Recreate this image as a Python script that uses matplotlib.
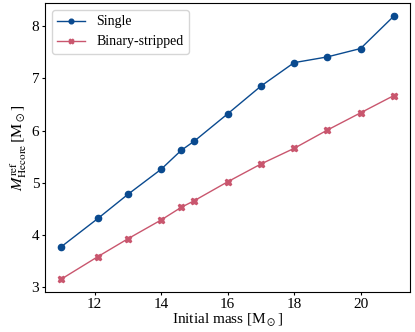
import matplotlib
matplotlib.use("Agg")
import matplotlib.pyplot as plt

# data
mass = [11, 12.1, 13, 14, 14.6, 15, 16, 17, 18, 19, 20, 21]
single = [3.78, 4.32, 4.78, 5.26, 5.62, 5.80, 6.32, 6.85, 7.30, 7.41, 7.57, 8.19]
binary = [3.16, 3.59, 3.93, 4.29, 4.53, 4.66, 5.02, 5.36, 5.66, 6.01, 6.34, 6.67]

plt.rcParams["font.family"] = ["Liberation Serif", "DejaVu Serif"]
plt.rcParams["mathtext.fontset"] = "stix"

fig = plt.figure(figsize=(4.15, 3.32), dpi=100)
ax = fig.add_axes([0.108, 0.12, 0.881, 0.871])

ax.plot(mass, single, marker="o", markersize=4.5, lw=1,
        color="#0a4a8f", label="Single")
ax.plot(mass, binary, marker="X", markersize=4.5, lw=1,
        color="#c9566e", label="Binary-stripped")

ax.set_xticks([12, 14, 16, 18, 20])
ax.set_yticks([3, 4, 5, 6, 7, 8])
ax.tick_params(labelsize=11, pad=1.5, length=2.5)
ax.set_xlabel(r"Initial mass [M$_\odot$]", fontsize=11, labelpad=0)
ax.set_ylabel(r"$M_{\rm Hecore}^{\rm ref}\,[{\rm M}_\odot]$", fontsize=11.5, labelpad=2)

ax.legend(loc="upper left", fontsize=10, markerscale=0.75)

fig.savefig("out.png", dpi=100)
